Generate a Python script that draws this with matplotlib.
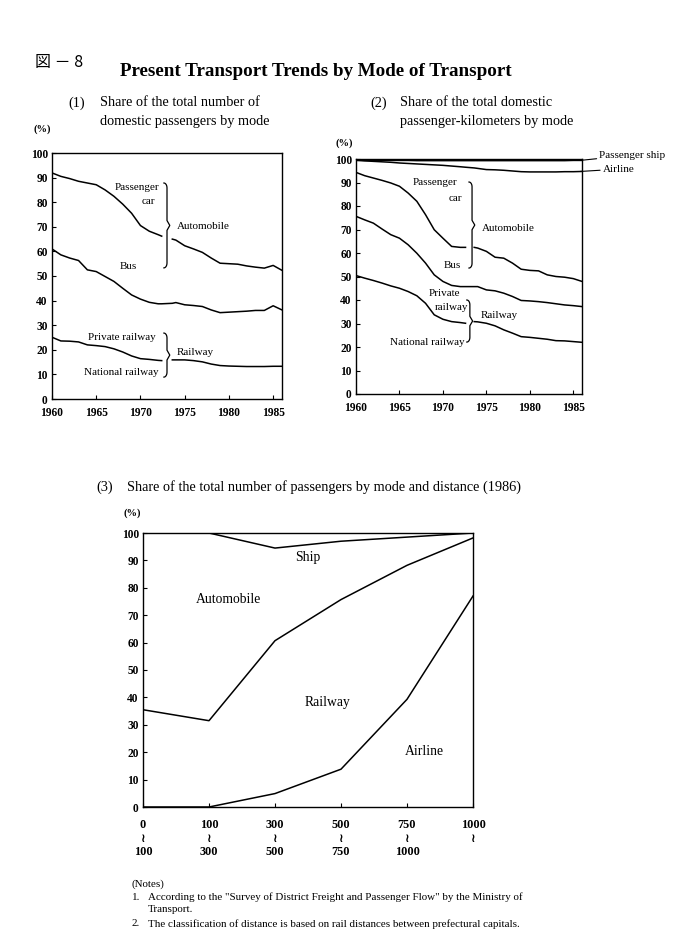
import numpy as np
import matplotlib
matplotlib.use("Agg")
import matplotlib.pyplot as plt

plt.rcParams['font.family'] = ['Liberation Serif', 'DejaVu Sans']

# (1) share of passengers, 1960-1986 (gap drawn around 1973)
years1 = [1960, 1961, 1962, 1963, 1964, 1965, 1966, 1967, 1968, 1969, 1970, 1971, 1972,
          1972.4, 1973.6,
          1974, 1975, 1976, 1977, 1978, 1979, 1980, 1981, 1982, 1983, 1984, 1985, 1986]
auto_top1 = [91.9, 90.5, 89.6, 88.5, 87.8, 87.1, 85.0, 82.4, 79.2, 75.5, 70.5, 68.2, 66.8,
             66.2, 65.0,
             64.6, 62.3, 61.0, 59.6, 57.3, 55.2, 55.0, 54.8, 54.1, 53.6, 53.2, 54.3, 52.3]
bus_line1 = [61.0, 58.6, 57.3, 56.3, 52.5, 51.8, 49.8, 47.8, 45.0, 42.3, 40.6, 39.3, 38.7,
             38.7, 38.9,
             39.2, 38.3, 38.0, 37.6, 36.2, 35.1, 35.3, 35.5, 35.7, 36.0, 36.0, 37.9, 36.2]
rail_line1 = [25.1, 23.6, 23.5, 23.2, 22.0, 21.7, 21.3, 20.4, 19.1, 17.5, 16.4, 16.1, 15.7,
              15.6, 15.9,
              15.9, 15.9, 15.6, 15.1, 14.2, 13.6, 13.4, 13.3, 13.2, 13.2, 13.2, 13.3, 13.3]

# (2) share of passenger-km
years2 = [1960, 1961, 1962, 1963, 1964, 1965, 1966, 1967, 1968, 1969, 1970, 1971, 1972,
          1972.6, 1973.6,
          1974, 1975, 1976, 1977, 1978, 1979, 1980, 1981, 1982, 1983, 1984, 1985, 1986]
ship_line2 = [99.6, 99.4, 99.4, 99.4, 99.4, 99.4, 99.4, 99.3, 99.3, 99.3, 99.3, 99.3, 99.3,
              99.3, 99.3,
              99.3, 99.3, 99.3, 99.3, 99.3, 99.3, 99.3, 99.3, 99.3, 99.3, 99.3, 99.4, 99.4]
air_line2 = [99.4, 99.2, 99.0, 98.8, 98.6, 98.3, 98.1, 97.9, 97.7, 97.5, 97.3, 97.0, 96.7,
             96.5, 96.2,
             96.0, 95.5, 95.4, 95.2, 94.9, 94.6, 94.5, 94.5, 94.5, 94.5, 94.6, 94.6, 94.7]
auto_top2 = [94.3, 92.9, 91.9, 90.9, 89.8, 88.4, 85.5, 82.0, 76.3, 69.9, 66.3, 62.8, 62.4,
             62.4, 62.4,
             62.1, 60.7, 58.2, 57.8, 55.7, 53.1, 52.6, 52.4, 50.7, 50.0, 49.7, 49.1, 47.9]
bus_line2 = [75.6, 74.1, 72.7, 70.2, 67.8, 66.3, 63.5, 59.9, 55.7, 50.7, 47.9, 46.2, 45.7,
             45.7, 45.7,
             45.7, 44.3, 43.9, 42.9, 41.5, 39.8, 39.6, 39.3, 38.9, 38.4, 37.9, 37.6, 37.2]
rail_line2 = [50.4, 49.3, 48.3, 47.2, 46.0, 45.0, 43.6, 41.8, 38.6, 33.7, 31.8, 30.8, 30.4,
              30.1, 30.8,
              30.7, 30.1, 29.0, 27.3, 25.9, 24.4, 24.1, 23.7, 23.3, 22.7, 22.6, 22.3, 22.0]

# (3) share by distance, 1986
dist_labels = ['0\n≀\n100', '100\n≀\n300', '300\n≀\n500', '500\n≀\n750', '750\n≀\n1000', '1000\n≀\n ']
ship_line3 = [100, 100, 94.5, 97.0, 98.5, 100]
rail_top3 = [35.5, 31.5, 60.7, 75.7, 88.2, 98.2]
air_top3 = [0, 0, 4.9, 13.8, 39.3, 77.0]

LW = 1.1
LBL = 8


def style_axes(ax):
    for s in ax.spines.values():
        s.set_linewidth(1.0)
    ax.tick_params(direction='in', length=3, width=0.8, labelsize=8.3, pad=3)
    ax.tick_params(axis='x', pad=5.5)
    for lab in ax.get_xticklabels() + ax.get_yticklabels():
        lab.set_fontweight('bold')


def brace(ax, x, y0, y1, w, c):
    # right-pointing curly brace from y0 (bottom) to y1 (top)
    ym = (y0 + y1) / 2
    t = np.linspace(0, np.pi / 2, 8)
    top = [(x - w + w * np.sin(a), y1 - c + c * np.cos(a)) for a in t]
    bot = [(x - w + w * np.sin(a), y0 + c - c * np.cos(a)) for a in t][::-1]
    pts = [(x - w, y1)] + top + [(x, ym + c), (x + w * 0.9, ym), (x, ym - c)] + bot + [(x - w, y0)]
    xs, ys = zip(*pts)
    ax.plot(xs, ys, color='black', lw=0.9, clip_on=False)


def plot_split(ax, xs, ys, gap_lo, gap_hi):
    xs = np.array(xs)
    ys = np.array(ys)
    a = xs <= gap_lo
    b = xs >= gap_hi
    ax.plot(xs[a], ys[a], color='black', lw=LW)
    ax.plot(xs[b], ys[b], color='black', lw=LW)


fig = plt.figure(figsize=(7, 9.51), dpi=100)
fig.patch.set_facecolor('white')

fig.text(35 / 700, 1 - 62 / 951, '図 － 8', fontsize=11.5,
         family=['Noto Sans CJK JP', 'DejaVu Sans'], va='center', ha='left')
fig.text(316 / 700, 1 - 72 / 951, 'Present Transport Trends by Mode of Transport',
         fontsize=13.7, fontweight='bold', ha='center', va='center')

SUB = 10.3
fig.text(68 / 700, 1 - 103 / 951, '(1)', fontsize=SUB, va='center')
fig.text(100 / 700, 1 - 103 / 951, 'Share of the total number of', fontsize=SUB, va='center')
fig.text(100 / 700, 1 - 121 / 951, 'domestic passengers by mode', fontsize=SUB, va='center')
fig.text(370 / 700, 1 - 103 / 951, '(2)', fontsize=SUB, va='center')
fig.text(400 / 700, 1 - 103 / 951, 'Share of the total domestic', fontsize=SUB, va='center')
fig.text(400 / 700, 1 - 121 / 951, 'passenger-kilometers by mode', fontsize=SUB, va='center')
fig.text(96 / 700, 1 - 487 / 951, '(3)', fontsize=SUB, va='center')
fig.text(127 / 700, 1 - 487 / 951,
         'Share of the total number of passengers by mode and distance (1986)',
         fontsize=SUB, va='center')

fig.text(33 / 700, 1 - 129 / 951, '(%)', fontsize=7.5, fontweight='bold', va='center')
fig.text(336 / 700, 1 - 143 / 951, '(%)', fontsize=7.5, fontweight='bold', va='center')
fig.text(124 / 700, 1 - 513 / 951, '(%)', fontsize=7.5, fontweight='bold', va='center')

# ---- chart (1)
ax1 = fig.add_axes([52 / 700, 1 - 399 / 951, 230 / 700, 246 / 951])
plot_split(ax1, years1, auto_top1, 1972.4, 1973.6)
ax1.plot(years1, bus_line1, color='black', lw=LW)
plot_split(ax1, years1, rail_line1, 1972.4, 1973.6)
ax1.set_xlim(1960, 1986)
ax1.set_ylim(0, 100)
ax1.set_xticks([1960, 1965, 1970, 1975, 1980, 1985])
ax1.set_yticks(range(0, 101, 10))
style_axes(ax1)
ax1.text(1969.6, 85.8, 'Passenger', fontsize=LBL, ha='center', va='center')
ax1.text(1970.9, 80.1, 'car', fontsize=LBL, ha='center', va='center')
ax1.text(1968.6, 53.7, 'Bus', fontsize=LBL, ha='center', va='center')
ax1.text(1974.1, 70.3, 'Automobile', fontsize=LBL, ha='left', va='center')
ax1.text(1967.9, 24.8, 'Private railway', fontsize=LBL, ha='center', va='center')
ax1.text(1967.8, 10.6, 'National railway', fontsize=LBL, ha='center', va='center')
ax1.text(1974.1, 19.1, 'Railway', fontsize=LBL, ha='left', va='center')
brace(ax1, 1973.0, 53.3, 87.8, 0.35, 2.0)
brace(ax1, 1973.0, 8.9, 26.8, 0.35, 2.0)

# ---- chart (2)
ax2 = fig.add_axes([356 / 700, 1 - 394 / 951, 226 / 700, 235 / 951])
ax2.plot(years2, ship_line2, color='black', lw=LW)
ax2.plot(years2, air_line2, color='black', lw=LW)
plot_split(ax2, years2, auto_top2, 1972.6, 1973.6)
ax2.plot(years2, bus_line2, color='black', lw=LW)
plot_split(ax2, years2, rail_line2, 1972.6, 1973.6)
ax2.set_xlim(1960, 1986)
ax2.set_ylim(0, 100)
ax2.set_xticks([1960, 1965, 1970, 1975, 1980, 1985])
ax2.set_yticks(range(0, 101, 10))
style_axes(ax2)
ax2.text(1969.1, 89.8, 'Passenger', fontsize=LBL, ha='center', va='center')
ax2.text(1971.4, 83.0, 'car', fontsize=LBL, ha='center', va='center')
ax2.text(1971.05, 54.5, 'Bus', fontsize=LBL, ha='center', va='center')
ax2.text(1974.5, 70.6, 'Automobile', fontsize=LBL, ha='left', va='center')
ax2.text(1970.2, 42.6, 'Private', fontsize=LBL, ha='center', va='center')
ax2.text(1971.0, 37.0, 'railway', fontsize=LBL, ha='center', va='center')
ax2.text(1974.3, 33.2, 'Railway', fontsize=LBL, ha='left', va='center')
ax2.text(1968.2, 22.1, 'National railway', fontsize=LBL, ha='center', va='center')
brace(ax2, 1973.35, 53.6, 90.2, 0.35, 2.0)
brace(ax2, 1973.1, 22.1, 40.0, 0.35, 2.0)
ax2.annotate('Passenger ship', xy=(1985.8, ship_line2[-1]), xytext=(1988.0, 101.7),
             fontsize=LBL, va='center', ha='left', annotation_clip=False,
             arrowprops=dict(arrowstyle='-', lw=0.8, color='black', shrinkA=0, shrinkB=0))
ax2.annotate('Airline', xy=(1985.8, air_line2[-1]), xytext=(1988.4, 95.7),
             fontsize=LBL, va='center', ha='left', annotation_clip=False,
             arrowprops=dict(arrowstyle='-', lw=0.8, color='black', shrinkA=0, shrinkB=0))

# ---- chart (3)
ax3 = fig.add_axes([143 / 700, 1 - 807 / 951, 330 / 700, 274 / 951])
xpos = np.arange(len(dist_labels))
ax3.plot(xpos, ship_line3, color='black', lw=LW)
ax3.plot(xpos, rail_top3, color='black', lw=LW)
ax3.plot(xpos, air_top3, color='black', lw=LW)
ax3.set_xlim(0, len(dist_labels) - 1)
ax3.set_ylim(0, 100)
ax3.set_yticks(range(0, 101, 10))
ax3.set_xticks(xpos)
ax3.set_xticklabels(dist_labels, linespacing=1.15, va='top')
style_axes(ax3)
ax3.tick_params(axis='x', pad=9, labelsize=8.8)
ax3.text(2.5, 90.9, 'Ship', fontsize=9.8, ha='center', va='center')
ax3.text(1.29, 75.9, 'Automobile', fontsize=9.8, ha='center', va='center')
ax3.text(2.8, 38.0, 'Railway', fontsize=9.8, ha='center', va='center')
ax3.text(4.27, 20.4, 'Airline', fontsize=9.8, ha='center', va='center')

# ---- notes
NT = 7.9
fig.text(132 / 700, 1 - 884 / 951, '(Notes)', fontsize=NT, va='center')
fig.text(132 / 700, 1 - 897 / 951, '1.', fontsize=NT, va='center')
fig.text(148 / 700, 1 - 897 / 951,
         'According to the "Survey of District Freight and Passenger Flow" by the Ministry of',
         fontsize=NT, va='center')
fig.text(148 / 700, 1 - 910 / 951, 'Transport.', fontsize=NT, va='center')
fig.text(132 / 700, 1 - 924 / 951, '2.', fontsize=NT, va='center')
fig.text(148 / 700, 1 - 924 / 951,
         'The classification of distance is based on rail distances between prefectural capitals.',
         fontsize=NT, va='center')

fig.savefig('out.png', dpi=100, facecolor='white')
